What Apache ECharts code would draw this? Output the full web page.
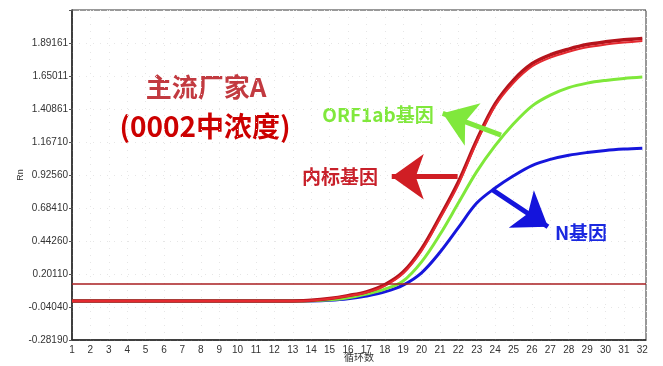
<!DOCTYPE html>
<html><head><meta charset="utf-8">
<script src="https://cdn.jsdelivr.net/npm/echarts@6/dist/echarts.min.js"></script>
<style>html,body{margin:0;padding:0;background:#fff}#c{width:663px;height:366px}</style>
</head><body><div id="c"></div>
<script>
const cycles = [1,2,3,4,5,6,7,8,9,10,11,12,13,14,15,16,17,18,19,20,21,22,23,24,25,26,27,28,29,30,31,32];
const yTickLabels = ['-0.28190','-0.04040','0.20110','0.44260','0.68410','0.92560','1.16710','1.40861','1.65011','1.89161'];
const yMin = -0.2819;
const yStep = 0.241501;
const yMax = 2.13311;
// 内标基因 (two overlapping red traces)
const internalA = [0.003,0.003,0.003,0.003,0.003,0.003,0.003,0.003,0.003,0.003,0.003,0.003,0.004,0.008,0.02,0.04,0.066,0.115,0.205,0.37,0.605,0.855,1.165,1.43,1.60,1.72,1.785,1.827,1.86,1.88,1.895,1.907];
const internalB = [0.003,0.003,0.003,0.003,0.003,0.003,0.003,0.003,0.003,0.003,0.003,0.003,0.004,0.009,0.022,0.043,0.07,0.122,0.215,0.385,0.62,0.875,1.18,1.445,1.62,1.74,1.805,1.847,1.88,1.9,1.915,1.925];
// ORF1ab基因
const orf1ab = [0.003,0.003,0.003,0.003,0.003,0.003,0.003,0.003,0.003,0.003,0.003,0.003,0.003,0.005,0.012,0.028,0.055,0.09,0.15,0.29,0.49,0.72,0.95,1.14,1.30,1.43,1.51,1.565,1.598,1.618,1.632,1.642];
// N基因
const nGene = [0.003,0.003,0.003,0.003,0.003,0.003,0.003,0.003,0.003,0.003,0.003,0.003,0.003,0.004,0.009,0.02,0.04,0.07,0.12,0.21,0.36,0.54,0.72,0.83,0.92,0.995,1.04,1.07,1.09,1.105,1.115,1.122];
const threshold = 0.126;
// annotation arrows: [from, to] in [cycle, Rn]
const orfArrow = [[24.32, 1.218], [21.15, 1.377]];
const refArrow = [[21.96, 0.913], [18.38, 0.913]];
const nArrow = [[23.87, 0.816], [26.87, 0.547]];

const pairs = arr => cycles.map((c, i) => [c, arr[i]]);
const arrow = (pts, color) => ({
  silent: true, animation: false,
  symbol: ['none', 'arrow'], symbolSize: [34, 32],
  label: { show: false },
  lineStyle: { color: color, width: 5, type: 'solid' },
  emphasis: { disabled: true },
  data: [[{ coord: pts[0] }, { coord: pts[1] }]]
});
const lineSeries = (name, arr, color, width, z) => ({
  name: name, type: 'line', data: pairs(arr), symbol: 'none', smooth: 0.35,
  lineStyle: { color: color, width: width }, z: z, silent: true, animation: false
});

const chart = echarts.init(document.getElementById('c'), null, { renderer: 'canvas' });
const sRefB = lineSeries('内标基因B', internalB, '#b5141c', 3.5, 3);
const sRefA = lineSeries('内标基因', internalA, '#e42a30', 2, 4);
const sOrf = lineSeries('ORF1ab基因', orf1ab, '#7fe83a', 3, 3);
const sN = lineSeries('N基因', nGene, '#1616dc', 3, 3);
sRefA.markLine = arrow(refArrow, '#d01e24');
sOrf.markLine = arrow(orfArrow, '#80e83c');
sN.markLine = arrow(nArrow, '#1414dc');
sRefB.markLine = {
  silent: true, animation: false, symbol: ['none', 'none'],
  label: { show: false },
  lineStyle: { color: '#a81e20', width: 1.5, type: 'solid' },
  data: [{ yAxis: threshold }]
};

const axisFont = '"Liberation Sans", Arial, sans-serif';
const cjk = '"Noto Sans CJK SC", sans-serif';
chart.setOption({
  backgroundColor: '#fff',
  animation: false,
  grid: { left: 72, right: 17, top: 10, bottom: 26, show: true, borderColor: '#333', borderWidth: 1, outerBoundsMode: 'none' },
  xAxis: {
    type: 'value', min: 1, max: 32.2, interval: 1,
    name: '循环数', nameLocation: 'middle', nameGap: 12, nameMoveOverlap: false,
    nameTextStyle: { fontSize: 10, color: '#333', fontFamily: cjk },
    axisLine: { show: true, onZero: false, lineStyle: { color: '#222', width: 1.5 } },
    axisTick: { show: false },
    axisLabel: {
      fontSize: 10, color: '#333', margin: 5, fontFamily: axisFont,
      formatter: v => (Math.abs(v - Math.round(v)) < 1e-6 ? String(Math.round(v)) : '')
    },
    splitLine: { show: true, lineStyle: { color: '#e6e6e6', type: [1, 6], width: 1 } }
  },
  yAxis: {
    type: 'value', min: yMin, max: yMax, interval: yStep,
    name: 'Rn', nameLocation: 'middle', nameGap: 47, nameMoveOverlap: false,
    nameTextStyle: { fontSize: 9, color: '#333', fontFamily: axisFont },
    axisLine: { show: true, onZero: false, lineStyle: { color: '#222', width: 1.5 } },
    axisTick: { show: true, length: 3, lineStyle: { color: '#555' } },
    axisLabel: {
      fontSize: 10, color: '#333', margin: 4, fontFamily: axisFont,
      formatter: v => {
        const k = Math.round((v - yMin) / yStep);
        return (k >= 0 && k < yTickLabels.length && Math.abs(v - (yMin + k * yStep)) < 1e-4) ? yTickLabels[k] : '';
      }
    },
    splitLine: { show: true, lineStyle: { color: '#e6e6e6', type: [1, 6], width: 1 } }
  },
  series: [sN, sOrf, sRefB, sRefA],
  graphic: [
    { type: 'text', x: 206, y: 87, silent: true, style: { text: '主流厂家A', fill: '#c23a40', font: 'bold 26px ' + cjk, textAlign: 'center', textVerticalAlign: 'middle', align: 'center', verticalAlign: 'middle' } },
    { type: 'text', x: 205, y: 126, silent: true, style: { text: '(0002中浓度)', fill: '#cc0000', font: 'bold 28px ' + cjk, textAlign: 'center', textVerticalAlign: 'middle', align: 'center', verticalAlign: 'middle' } },
    { type: 'text', x: 378, y: 115, silent: true, style: { text: 'ORF1ab基因', fill: '#80e83c', font: 'bold 19px ' + cjk, textAlign: 'center', textVerticalAlign: 'middle', align: 'center', verticalAlign: 'middle' } },
    { type: 'text', x: 340, y: 177, silent: true, style: { text: '内标基因', fill: '#c8202a', font: 'bold 19px ' + cjk, textAlign: 'center', textVerticalAlign: 'middle', align: 'center', verticalAlign: 'middle' } },
    { type: 'text', x: 581, y: 233, silent: true, style: { text: 'N基因', fill: '#1a28e0', font: 'bold 19px ' + cjk, textAlign: 'center', textVerticalAlign: 'middle', align: 'center', verticalAlign: 'middle' } }
  ]
});
</script>
</body></html>
